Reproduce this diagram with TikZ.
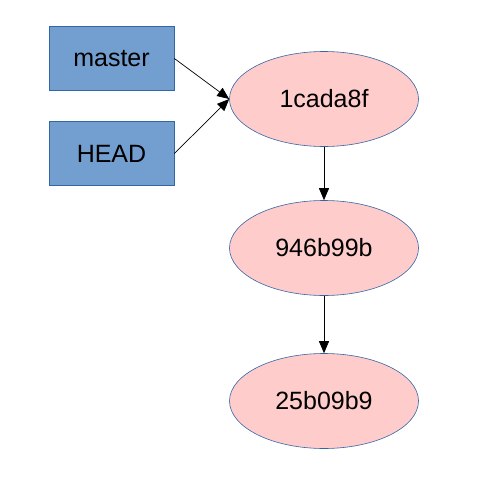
\documentclass[tikz,border=0pt]{standalone}
\usepackage{fontspec}
\setmainfont{Liberation Sans}
\usetikzlibrary{shapes.geometric,arrows.meta}
\definecolor{boxfill}{HTML}{729FCF}
\definecolor{boxline}{HTML}{3465A4}
\definecolor{ellfill}{HTML}{FFCCCC}
\definecolor{ellline}{HTML}{3465A4}
\tikzset{
  refbox/.style={draw=boxline, fill=boxfill, line width=0.8pt, minimum width=125pt, minimum height=64pt, inner sep=0pt, font=\fontsize{25}{29}\selectfont},
  commit/.style={ellipse, draw=ellline, fill=ellfill, line width=0.6pt, minimum width=189pt, minimum height=95pt, inner sep=0pt, font=\fontsize{25}{29}\selectfont},
  conn/.style={line width=0.7pt, -{Triangle[length=12pt,width=10pt]}}
}
\begin{document}
\begin{tikzpicture}[x=1pt,y=-1pt]
\useasboundingbox (0,0) rectangle (480,480);
\node[refbox] (master) at (111.5,58.5) {master};
\node[refbox] (head) at (111.5,153.5) {HEAD};
\node[commit] (c1) at (324,99) {1cada8f};
\node[commit] (c2) at (324,248) {946b99b};
\node[commit] (c3) at (324,401) {25b09b9};
\draw[conn] (master.east) -- (c1.west);
\draw[conn] (head.east) -- (c1.west);
\draw[conn] (c1.south) -- (c2.north);
\draw[conn] (c2.south) -- (c3.north);
\end{tikzpicture}
\end{document}
